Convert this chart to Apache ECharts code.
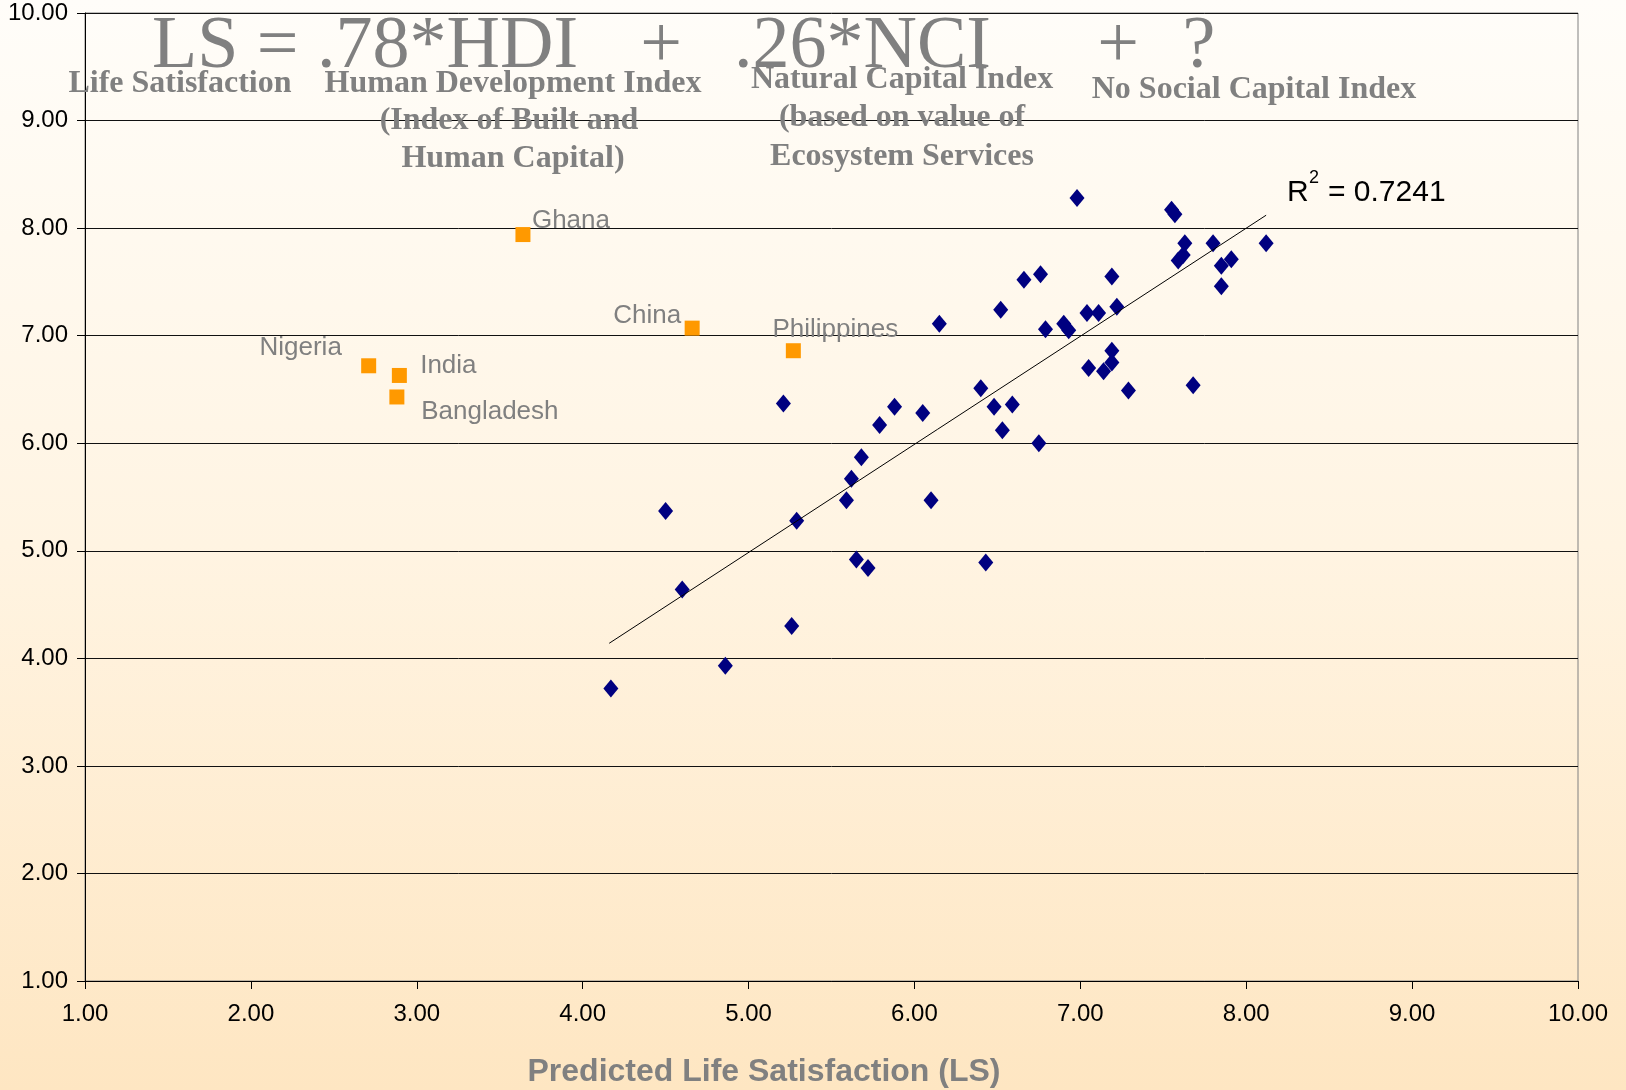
<!DOCTYPE html>
<html>
<head>
<meta charset="utf-8">
<title>Life Satisfaction vs Predicted Life Satisfaction</title>
<script src="https://cdn.jsdelivr.net/npm/echarts@6/dist/echarts.min.js"></script>
<style>
  html, body { margin: 0; padding: 0; }
  #chart { width: 1626px; height: 1090px; }
</style>
</head>
<body>
<div id="chart"></div>
<script>
// Countries on the regression (predicted LS vs observed LS)
const countryX = [4.17, 4.50, 4.60, 4.86, 5.21, 5.26, 5.29, 5.59, 5.62, 5.65,
                  5.68, 5.72, 5.79, 5.88, 6.05, 6.10, 6.15, 6.40, 6.43, 6.48,
                  6.53, 6.52, 6.59, 6.66, 6.75, 6.76, 6.79, 6.90, 6.93, 6.98,
                  7.04, 7.05, 7.11, 7.14, 7.19, 7.19, 7.19, 7.22, 7.29, 7.55,
                  7.57, 7.59, 7.62, 7.63, 7.68, 7.80, 7.85, 7.85, 7.91, 8.12];
const countryY = [3.72, 5.37, 4.64, 3.93, 6.37, 4.30, 5.28, 5.47, 5.67, 4.92,
                  5.87, 4.84, 6.17, 6.34, 6.28, 5.47, 7.11, 6.51, 4.89, 6.34,
                  6.12, 7.24, 6.36, 7.52, 6.00, 7.57, 7.06, 7.11, 7.05, 8.28,
                  7.21, 6.70, 7.21, 6.67, 6.75, 6.86, 7.55, 7.27, 6.49, 8.17,
                  8.13, 7.70, 7.75, 7.86, 6.54, 7.86, 7.65, 7.46, 7.71, 7.86];

// Outlier countries, named
const outlierNames = ['Ghana', 'China', 'Philippines', 'Nigeria', 'India', 'Bangladesh'];
const outlierX = [3.64, 4.66, 5.27, 2.71, 2.895, 2.88];
const outlierY = [7.94, 7.07, 6.86, 6.72, 6.63, 6.43];

// Linear trend line end points and its fit
const trendX = [4.16, 8.12];
const trendY = [4.14, 8.12];
const rSquared = '0.7241';

// Axis ticks
const axisMin = 1;
const axisMax = 10;
const axisStep = 1;

// Where each outlier name sits relative to its marker (px)
const nameOffsets = {
  Ghana: [48, -14],
  China: [-45, -12],
  Philippines: [42, -21],
  Nigeria: [-68, -18],
  India: [49, -10],
  Bangladesh: [93, 15]
};

const SANS = '"Liberation Sans", Arial, sans-serif';
const SERIF = '"Liberation Serif", "Times New Roman", serif';
const GREY = '#808080';

const chart = echarts.init(document.getElementById('chart'), null, { renderer: 'canvas' });

const countryData = countryX.map((x, i) => [x, countryY[i]]);
const outlierData = outlierNames.map((n, i) => ({
  name: n,
  value: [outlierX[i], outlierY[i]],
  label: { offset: nameOffsets[n] }
}));
const trendData = trendX.map((x, i) => [x, trendY[i]]);

function serifText(text, x, y, size, bold, align) {
  return {
    type: 'text', x: x, y: y, z: 10,
    style: {
      text: text,
      font: (bold ? 'bold ' : '') + size + 'px ' + SERIF,
      fill: GREY,
      align: align || 'center',
      verticalAlign: 'middle'
    }
  };
}

const option = {
  animation: false,
  backgroundColor: {
    type: 'linear', x: 0, y: 0, x2: 0, y2: 1,
    colorStops: [
      { offset: 0, color: '#FFFDF9' },
      { offset: 0.5, color: '#FFF4E2' },
      { offset: 1, color: '#FEE6C2' }
    ]
  },
  grid: {
    left: 85, right: 48, top: 13, bottom: 109,
    show: true,
    borderColor: GREY,
    borderWidth: 1,
    backgroundColor: 'transparent'
  },
  xAxis: {
    type: 'value',
    min: axisMin, max: axisMax, interval: axisStep,
    axisLine: { show: true, lineStyle: { color: '#000', width: 1 } },
    axisTick: { show: true, inside: false, length: 8, lineStyle: { color: '#000' } },
    axisLabel: {
      margin: 21,
      color: '#000',
      fontFamily: SANS,
      fontSize: 24,
      formatter: v => v.toFixed(2)
    },
    splitLine: { show: false }
  },
  yAxis: {
    type: 'value',
    min: axisMin, max: axisMax, interval: axisStep,
    axisLine: { show: true, lineStyle: { color: '#000', width: 1 } },
    axisTick: { show: true, inside: false, length: 8, lineStyle: { color: '#000' } },
    axisLabel: {
      margin: 17,
      color: '#000',
      fontFamily: SANS,
      fontSize: 24,
      formatter: v => v.toFixed(2)
    },
    splitLine: { show: true, lineStyle: { color: '#111', width: 1 } }
  },
  series: [
    {
      type: 'scatter',
      data: countryData,
      symbol: 'diamond',
      symbolSize: [15, 18],
      itemStyle: { color: '#000080', opacity: 1 },
      z: 3
    },
    {
      type: 'scatter',
      data: outlierData,
      symbol: 'rect',
      symbolSize: 15,
      itemStyle: { color: '#FF9900', opacity: 1 },
      label: {
        show: true,
        position: 'inside',
        formatter: p => p.name,
        color: GREY,
        fontFamily: SANS,
        fontSize: 26
      },
      z: 3
    },
    {
      type: 'line',
      data: trendData,
      showSymbol: false,
      symbol: 'none',
      lineStyle: { color: '#000', width: 1 },
      silent: true,
      z: 4
    }
  ],
  graphic: [
    // Equation across the top
    serifText('LS = .78*HDI', 152, 48, 74, false, 'left'),
    serifText('+', 661, 48, 74, false, 'center'),
    serifText('.26*NCI', 734, 48, 74, false, 'left'),
    serifText('+', 1118, 48, 74, false, 'center'),
    serifText('?', 1199, 48, 74, false, 'center'),
    // Terms of the equation
    serifText('Life Satisfaction', 180, 84, 32, true),
    serifText('Human Development Index', 513, 84, 32, true),
    serifText('(Index of Built and', 509, 121, 32, true),
    serifText('Human Capital)', 513, 159, 32, true),
    serifText('Natural Capital Index', 902, 80, 32, true),
    serifText('(based on value of', 902, 118, 32, true),
    serifText('Ecosystem Services', 902, 157, 32, true),
    serifText('No Social Capital Index', 1254, 90, 32, true),
    // Fit statistic
    {
      type: 'text', x: 1287, y: 193, z: 10,
      style: { text: 'R', font: '30px ' + SANS, fill: '#000', align: 'left', verticalAlign: 'middle' }
    },
    {
      type: 'text', x: 1309, y: 178, z: 10,
      style: { text: '2', font: '18px ' + SANS, fill: '#000', align: 'left', verticalAlign: 'middle' }
    },
    {
      type: 'text', x: 1328, y: 193, z: 10,
      style: { text: '= ' + rSquared, font: '30px ' + SANS, fill: '#000', align: 'left', verticalAlign: 'middle' }
    },
    // X axis title
    {
      type: 'text', x: 764, y: 1072, z: 10,
      style: {
        text: 'Predicted Life Satisfaction (LS)',
        font: 'bold 32px ' + SANS,
        fill: GREY,
        align: 'center',
        verticalAlign: 'middle'
      }
    }
  ]
};

chart.setOption(option);
</script>
</body>
</html>
